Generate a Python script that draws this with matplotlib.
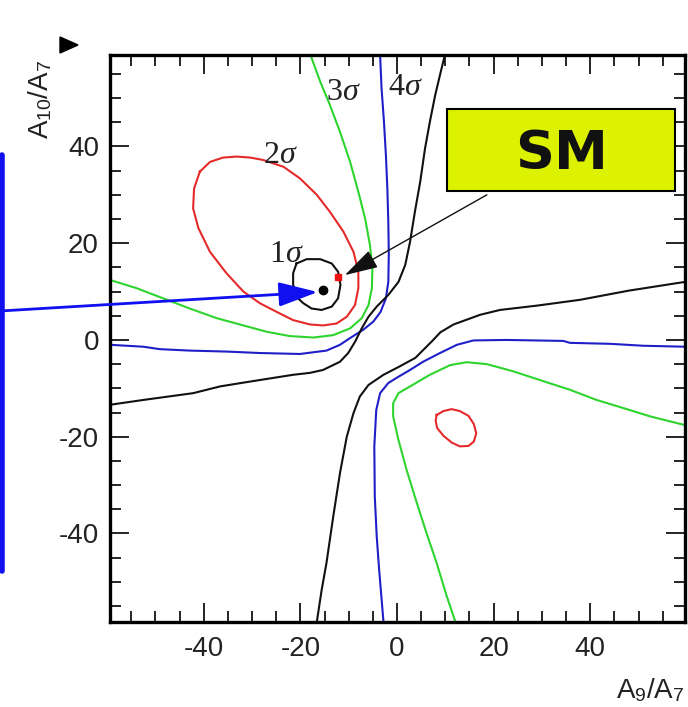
import matplotlib
matplotlib.use("Agg")
import matplotlib.pyplot as plt
from matplotlib.ticker import MultipleLocator
from matplotlib.patches import Rectangle, Polygon
from matplotlib.lines import Line2D

plt.rcParams['font.family'] = ['Liberation Sans', 'DejaVu Sans']
plt.rcParams['mathtext.fontset'] = 'custom'
plt.rcParams['mathtext.rm'] = 'Liberation Sans'
plt.rcParams['mathtext.it'] = 'Liberation Serif:italic'
plt.rcParams['mathtext.bf'] = 'Liberation Sans:bold'

# ---------------- data ----------------
x_ticks = [-40, -20, 0, 20, 40]
y_ticks = [-40, -20, 0, 20, 40]
x_label = r"A$_{9}$/A$_{7}$"
y_label = r"A$_{10}$/A$_{7}$"

# 1 sigma contour (black, closed)
c1_x = [-20.8, -18.7, -15.9, -13.5, -12.2, -11.7, -12.2, -13.5, -15.6, -17.7, -19.4, -20.8, -21.5, -21.5, -20.8]
c1_y = [15.8, 16.7, 16.7, 15.8, 14.1, 11.4, 8.6, 6.9, 6.2, 6.5, 7.6, 8.9, 11.4, 13.8, 15.8]

# 2 sigma contour (red, closed) - main island
c2a_x = [-40.8, -38.7, -36.0, -33.2, -30.4, -27.7, -23.5, -20.1, -16.6, -13.9, -11.1, -9.0, -8.0, -8.0,
         -8.7, -10.4, -12.5, -15.3, -18.0, -21.5, -24.9, -28.4, -31.8, -35.3, -38.7, -41.1, -42.2, -42.0, -40.8]
c2a_y = [34.8, 36.8, 37.7, 37.9, 37.7, 37.2, 35.8, 33.4, 30.0, 26.5, 22.4, 18.2, 14.1, 10.7,
         7.2, 4.8, 3.4, 3.0, 3.2, 4.1, 5.8, 7.6, 10.0, 13.8, 18.2, 23.1, 27.2, 31.3, 34.8]
# 2 sigma contour (red, closed) - small island
c2b_x = [8.2, 9.6, 11.3, 13.0, 14.8, 15.9, 16.4, 15.9, 14.8, 13.0, 11.3, 9.6, 8.3, 8.0, 8.2]
c2b_y = [-15.5, -14.7, -14.3, -14.7, -15.7, -17.4, -19.3, -21.0, -21.9, -22.0, -21.2, -19.8, -18.2, -16.7, -15.5]

# 3 sigma contour (green), two branches
c3a_x = [-17.9, -15.9, -13.9, -11.8, -9.7, -8.0, -6.6, -5.6, -5.1, -5.2, -5.9, -7.3, -9.7, -13.2,
         -17.3, -22.2, -27.0, -31.8, -37.3, -42.9, -48.4, -53.9, -59.4]
c3a_y = [58.9, 53.4, 48.6, 43.0, 36.8, 30.6, 25.1, 19.6, 14.8, 10.7, 7.2, 4.5, 2.4, 1.0,
         0.5, 0.8, 1.7, 3.0, 4.5, 6.5, 8.6, 10.7, 12.4]
c3b_x = [59.6, 52.4, 46.9, 41.3, 35.8, 29.6, 24.1, 18.6, 14.4, 11.0, 6.8, 2.7, 0.3, -0.8, -0.8,
         0.3, 2.0, 4.1, 6.1, 8.2, 10.3, 12.1]
c3b_y = [-17.6, -15.8, -14.1, -12.4, -10.3, -8.3, -6.5, -5.0, -4.6, -5.2, -7.2, -9.6, -11.0, -13.1, -15.8,
         -20.7, -26.9, -33.7, -39.9, -46.1, -53.0, -58.3]

# 4 sigma contour (blue), two branches
c4a_x = [-3.5, -3.2, -2.7, -2.3, -2.0, -1.8, -1.7, -1.8, -2.3, -3.4, -4.9, -7.0, -9.7, -11.8,
         -14.6, -20.1, -28.4, -35.3, -42.9, -49.1, -52.5, -59.4]
c4a_y = [58.9, 52.0, 45.1, 38.2, 31.3, 24.4, 17.6, 12.0, 8.6, 5.8, 3.8, 2.1, 0.4, -1.0,
         -2.2, -2.9, -2.7, -2.4, -2.2, -1.9, -1.4, -1.0]
c4b_x = [59.6, 51.0, 44.1, 35.8, 34.4, 22.7, 15.8, 12.4, 8.9, 5.4, 2.7, 0.3, -1.8, -3.5, -4.3,
         -4.7, -4.6, -4.2, -3.7, -2.8]
c4b_y = [-1.4, -1.2, -0.8, -0.6, -0.2, 0.0, -0.1, -1.0, -2.7, -4.5, -6.2, -7.6, -8.9, -11.0, -14.5,
         -22.0, -32.4, -40.6, -47.5, -58.3]

# outer contour (black), two branches
c5a_x = [9.9, 8.9, 7.9, 6.8, 5.8, 4.8, 3.7, 2.7, 1.7, 0.3, -1.8, -4.2, -5.9, -7.3, -8.7, -10.1,
         -11.8, -15.3, -18.0, -21.5, -30.4, -36.6, -42.2, -52.5, -59.4]
c5a_y = [58.9, 54.8, 50.6, 45.1, 39.6, 32.7, 26.5, 20.3, 15.5, 12.0, 9.3, 6.9, 4.8, 2.4, -0.4, -2.7,
         -4.5, -6.2, -6.8, -7.2, -8.6, -9.6, -11.0, -12.4, -13.4]
c5b_x = [59.6, 48.0, 37.9, 29.0, 21.3, 17.2, 11.7, 9.0, 7.2, 3.8, 0.3, -2.8, -5.9, -7.7, -9.0,
         -10.4, -11.8, -13.2, -14.6, -15.6, -16.6]
c5b_y = [12.0, 10.2, 8.3, 7.1, 6.2, 5.2, 3.2, 1.6, -0.3, -3.7, -5.6, -7.2, -9.3, -11.7, -15.1,
         -20.0, -27.5, -36.5, -46.1, -51.7, -58.3]

# points
best_fit = (-15.3, 10.3)
sm_point = (-12.2, 13.0)

# contour labels
sigma_labels = [r"1$\sigma$", r"2$\sigma$", r"3$\sigma$", r"4$\sigma$"]
sigma_lx = [-22.8, -24.2, -11.0, 1.7]
sigma_ly = [17.6, 38.2, 51.2, 52.1]

# SM box (data coords)
sm_box = (10.4, 30.8, 47.2, 16.9)   # x0, y0, width, height
sm_text = "SM"
sm_arrow_start = (18.6, 30.0)
sm_arrow_tip = (-10.8, 13.4)
blue_arrow_tip = (-16.4, 9.9)

# ---------------- figure ----------------
W, H = 688, 707
fig = plt.figure(figsize=(W / 100, H / 100), dpi=100)
ax = fig.add_axes([110 / W, (H - 622) / H, (685 - 110) / W, (622 - 55) / H])
ax.set_xlim(-59.4, 59.6)
ax.set_ylim(-58.3, 58.9)

lw = 1.5
red = '#e42a2a'
green = '#2fd42f'
blue = '#1f1fc8'
kw = dict(lw=lw, solid_joinstyle='round')
ax.plot(c2a_x, c2a_y, color=red, **kw)
ax.plot(c2b_x, c2b_y, color=red, **kw)
ax.plot(c3a_x, c3a_y, color=green, **kw)
ax.plot(c3b_x, c3b_y, color=green, **kw)
ax.plot(c4a_x, c4a_y, color=blue, **kw)
ax.plot(c4b_x, c4b_y, color=blue, **kw)
ax.plot(c5a_x, c5a_y, color='#111111', **kw)
ax.plot(c5b_x, c5b_y, color='#111111', **kw)
ax.plot(c1_x, c1_y, color='#111111', **kw)

ax.plot([best_fit[0]], [best_fit[1]], 'o', color='black', ms=6, zorder=6)
ax.plot([sm_point[0]], [sm_point[1]], 's', color='#ee1111', ms=5, zorder=6)

for t, x, y in zip(sigma_labels, sigma_lx, sigma_ly):
    ax.text(x, y, t, fontsize=23, family='Liberation Serif', color='#222222',
            ha='center', va='center', zorder=5)

# SM box
ax.add_patch(Rectangle((sm_box[0], sm_box[1]), sm_box[2], sm_box[3],
                       facecolor='#dcf200', edgecolor='black', lw=1.5, zorder=7))
ax.text(sm_box[0] + sm_box[2] / 2, sm_box[1] + sm_box[3] / 2 - 0.8, sm_text,
        fontsize=39, fontweight='bold', family='DejaVu Sans', ha='center', va='center',
        color='#111111', zorder=8)

# arrows
ax.annotate('', xy=sm_arrow_tip, xytext=sm_arrow_start,
            arrowprops=dict(arrowstyle='-|>,head_length=2.1,head_width=0.6',
                            color='#111111', lw=1.0, shrinkA=0, shrinkB=0), zorder=9)
ax.annotate('', xy=blue_arrow_tip, xycoords='data', xytext=(0, H - 311),
            textcoords='figure pixels',
            arrowprops=dict(arrowstyle='-|>,head_length=2.4,head_width=0.75',
                            color='#1010f0', lw=2.0, shrinkA=0, shrinkB=0),
            annotation_clip=False, zorder=9)

# ticks
ax.xaxis.set_minor_locator(MultipleLocator(5))
ax.yaxis.set_minor_locator(MultipleLocator(5))
ax.set_xticks(x_ticks)
ax.set_yticks(y_ticks)
ax.set_xticklabels([str(v) for v in x_ticks])
ax.set_yticklabels([str(v) for v in y_ticks])
ax.tick_params(which='both', direction='in', top=True, right=True, width=1.2, colors='black',
               labelcolor='#222222')
ax.tick_params(which='major', length=14, labelsize=20)
ax.tick_params(axis='x', which='major', pad=10)
ax.tick_params(axis='y', which='major', pad=8)
ax.tick_params(which='minor', length=8)
for s in ax.spines.values():
    s.set_linewidth(2.4)

fig.text(685 / W, 3 / H, x_label, fontsize=20, ha='right', va='bottom', color='#222222')
fig.text(40 / W, 1 - 60 / H, y_label, fontsize=20, rotation=90, ha='center', va='top',
         color='#222222')

# decorations outside the plot: blue box edge and black triangle
fig.add_artist(Line2D([2 / W, 2 / W], [1 - 155 / H, 1 - 571 / H], color='#1010f0', lw=4,
                      solid_capstyle='round', transform=fig.transFigure))
fig.add_artist(Polygon([(60 / W, 1 - 37 / H), (60 / W, 1 - 53 / H), (78 / W, 1 - 45 / H)],
                       closed=True, color='black', transform=fig.transFigure))

fig.savefig("out.png", dpi=100)
